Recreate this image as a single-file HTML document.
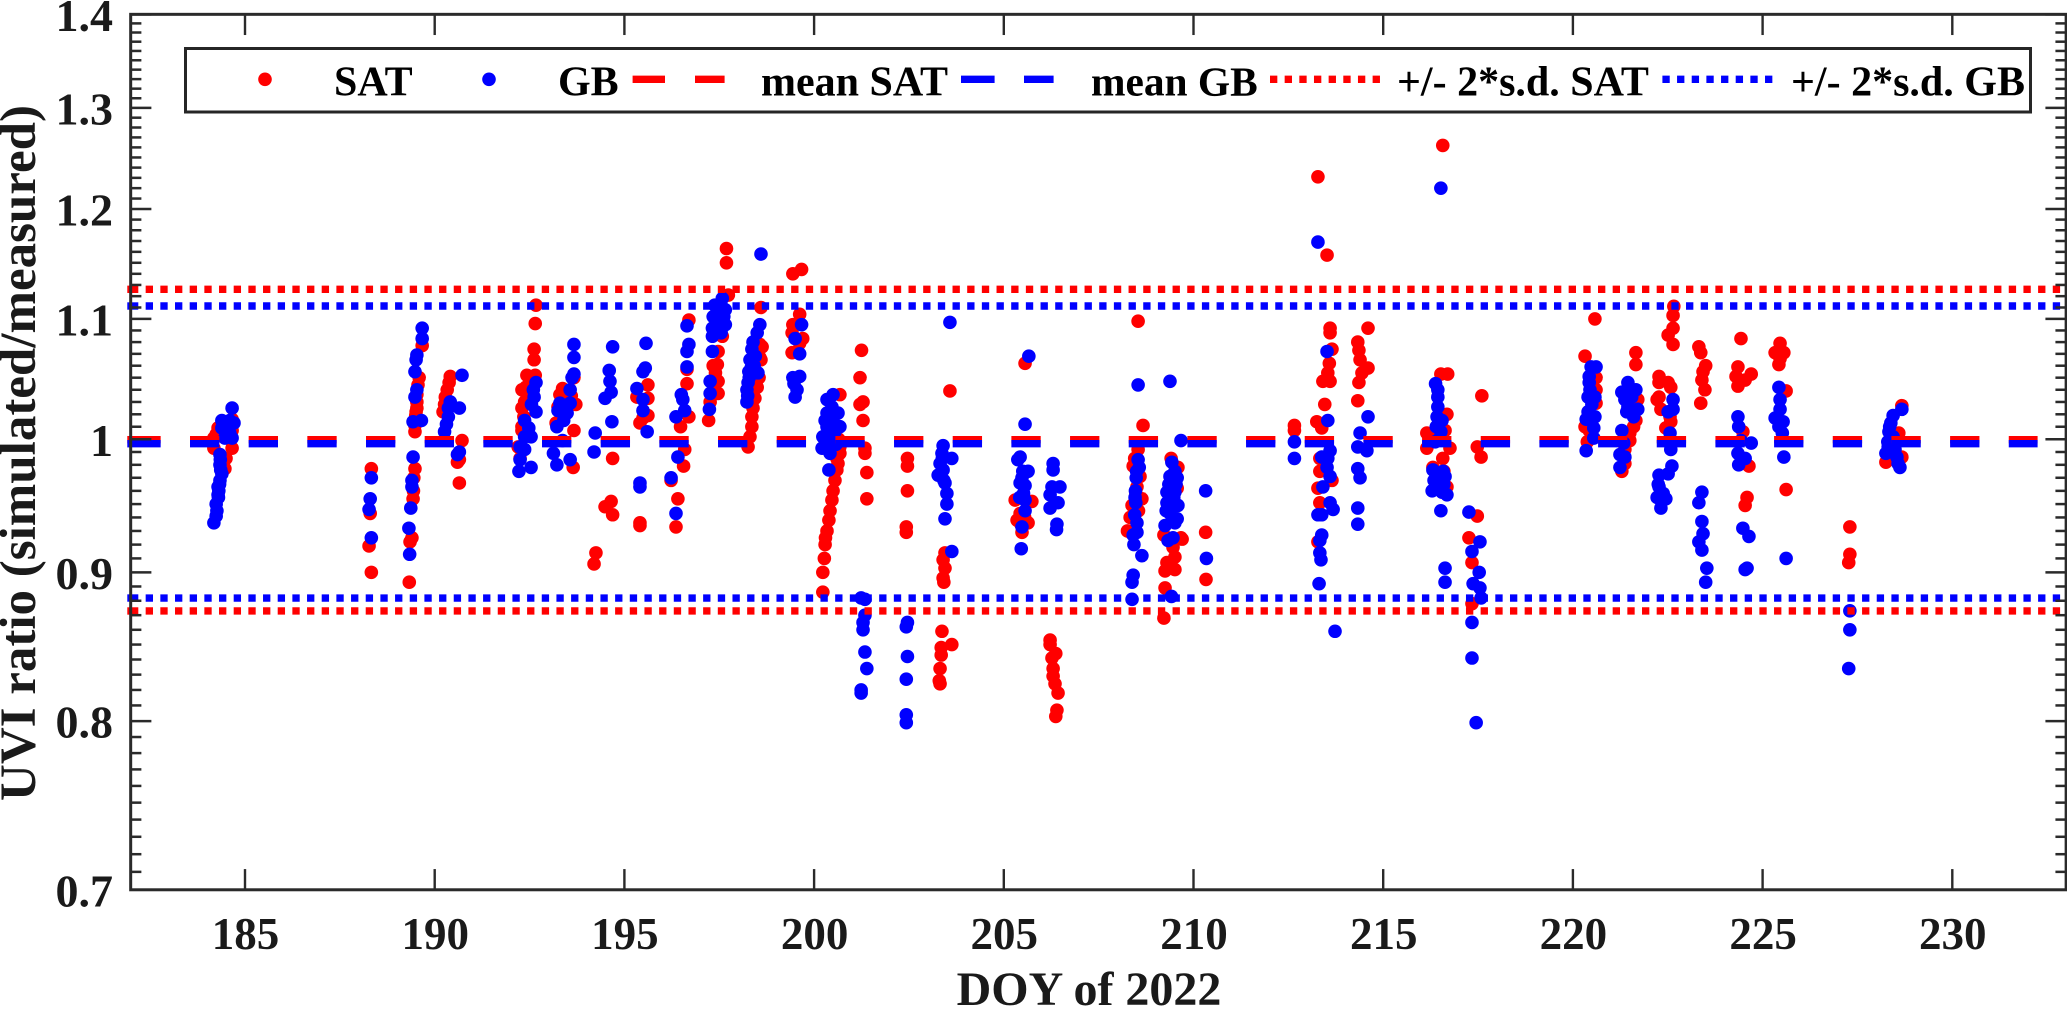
<!DOCTYPE html>
<html lang="en">
<head>
<meta charset="utf-8">
<title>UVI ratio by DOY of 2022</title>
<style>
html,body{margin:0;padding:0;background:#fff;}
svg{display:block;}
text{font-family:"Liberation Serif",serif;font-weight:bold;}
</style>
</head>
<body>
<svg id="chart" width="2067" height="1009" viewBox="0 0 2067 1009" xmlns="http://www.w3.org/2000/svg">
  <rect x="0" y="0" width="2067" height="1009" fill="#fff"/>
  <g id="sat-dots" fill="#ff0000"></g>
  <g id="gb-dots" fill="#0000ff"></g>
  <g id="ref-lines" fill="none"></g>
  <g id="axes"></g>
  <text transform="translate(35,453) rotate(-90)" text-anchor="middle" font-size="51" fill="#1a1a1a">UVI ratio (simulated/measured)</text>
  <text x="1089" y="1005" text-anchor="middle" font-size="48" fill="#1a1a1a">DOY of 2022</text>
  <g>
    <rect x="185.5" y="48.5" width="1845" height="63.5" fill="#fff" stroke="#262626" stroke-width="3"/>
    <circle cx="265" cy="79.3" r="6.8" fill="#ff0000"/>
    <text x="334" y="95.5" font-size="42" fill="#000">SAT</text>
    <circle cx="489" cy="79.3" r="6.8" fill="#0000ff"/>
    <text x="558" y="95.5" font-size="42" fill="#000">GB</text>
    <path d="M632.6 79.3H665M695 79.3H724.6" stroke="#ff0000" stroke-width="7.4" fill="none"/>
    <text x="761" y="95.5" font-size="42" fill="#000">mean SAT</text>
    <path d="M961 79.3H994.6M1024 79.3H1053.6" stroke="#0000ff" stroke-width="7.4" fill="none"/>
    <text x="1091" y="95.5" font-size="41.4" fill="#000">mean GB</text>
    <line x1="1270" y1="79.3" x2="1385" y2="79.3" stroke="#ff0000" stroke-width="7.4" stroke-dasharray="7.33 7.33"/>
    <text x="1397" y="95.5" font-size="42" fill="#000">+/- 2*s.d. SAT</text>
    <line x1="1662.4" y1="79.3" x2="1778" y2="79.3" stroke="#0000ff" stroke-width="7.4" stroke-dasharray="7.33 7.33"/>
    <text x="1791" y="95.5" font-size="42" fill="#000">+/- 2*s.d. GB</text>
  </g>
</svg>
<script>
const satDoy = [
184.18,184.18,184.66,184.47,184.66,184.29,184.66,184.24,184.5,
188.33,188.3,188.27,188.33,
189.67,189.59,189.56,189.53,189.53,189.53,189.51,189.5,189.48,189.48,189.48,189.43,189.4,189.35,189.33,189.45,189.44,
190.41,190.38,190.33,190.28,190.26,190.22,190.72,190.65,190.65,190.6,
192.67,192.65,192.62,192.62,192.43,192.65,192.4,192.3,192.54,192.37,192.54,192.3,192.3,192.3,192.2,192.35,192.45,192.5,192.25,
193.37,193.67,193.25,193.2,193.67,193.65,193.49,193.72,193.3,193.6,
194.69,194.65,194.49,194.69,194.25,194.2,
195.62,195.33,195.62,195.62,195.49,195.41,195.41,195.41,
196.7,196.65,196.65,196.7,196.48,196.59,196.56,196.23,196.41,196.36,
197.69,197.69,197.74,197.58,197.47,197.45,197.4,197.34,197.47,197.26,197.22,197.47,197.34,197.6,
198.6,198.57,198.63,198.57,198.6,198.5,198.44,198.39,198.36,198.36,198.31,198.26,198.55,
199.67,199.44,199.62,199.44,199.42,199.62,199.42,199.7,
200.68,200.68,200.68,200.63,200.6,200.55,200.5,200.47,200.42,200.39,200.34,200.3,200.29,200.27,200.23,200.23,200.65,200.6,
201.25,201.21,201.29,201.21,201.29,201.34,201.34,201.39,201.39,
202.46,202.46,202.46,202.43,202.43,
203.58,203.45,203.4,203.45,203.4,203.42,203.37,203.63,203.35,203.35,203.32,203.3,203.32,
205.56,205.3,205.74,205.43,205.35,205.64,205.48,205.45,205.55,
206.22,206.22,206.37,206.27,206.3,206.3,206.35,206.43,206.4,206.37,
208.54,208.67,208.54,208.41,208.59,208.51,208.64,208.38,208.33,208.38,208.26,208.45,208.55,208.48,
209.41,209.59,209.57,209.67,209.22,209.7,209.46,209.51,209.3,209.51,209.25,209.25,209.22,
210.32,210.33,
212.66,212.66,
213.28,213.52,213.6,213.6,213.65,213.58,213.54,213.41,213.6,213.46,213.25,213.38,213.33,213.33,213.65,213.28,213.33,213.28,
214.6,214.33,214.36,214.39,214.6,214.44,214.36,214.33,
216.57,216.7,216.68,216.63,216.15,216.76,216.15,216.57,216.31,216.68,216.52,216.4,216.6,
217.6,217.48,217.58,217.48,217.26,217.34,217.34,
220.58,220.32,220.61,220.61,220.61,220.48,220.48,220.43,220.38,220.32,
221.66,221.66,221.71,221.66,221.6,221.5,221.5,221.37,221.34,221.37,221.29,
222.66,222.64,222.64,222.51,222.64,222.27,222.27,222.58,222.51,222.27,222.22,222.32,222.56,222.58,222.45,
223.32,223.37,223.5,223.43,223.4,223.48,223.37,
224.43,224.35,224.3,224.7,224.54,224.35,224.48,224.64,224.59,224.54,
225.46,225.33,225.56,225.43,225.62,225.62,225.46,
227.3,227.3,227.27,
228.67,228.59,228.25,228.67
];
const satRatio = [
1.001,0.993,0.993,0.977,1.016,1.009,1.007,1.004,0.985,
0.977,0.943,0.919,0.900,
1.077,1.050,1.044,1.036,1.030,1.025,1.022,1.019,1.011,1.006,0.977,0.954,0.925,0.922,0.893,0.970,0.960,
1.051,1.046,1.040,1.034,1.028,1.022,0.999,0.984,0.966,0.982,
1.112,1.096,1.074,1.065,1.052,1.052,1.042,1.040,1.040,1.030,1.029,1.025,1.010,1.007,0.994,1.018,1.035,1.046,0.985,
1.041,1.050,1.026,1.013,1.007,0.978,1.032,1.028,1.036,1.035,
0.985,0.952,0.948,0.942,0.914,0.906,
1.044,1.034,1.033,1.019,1.017,1.013,0.936,0.934,
1.099,1.057,1.045,1.018,1.010,0.992,0.979,0.968,0.954,0.933,
1.163,1.150,1.121,1.085,1.072,1.061,1.054,1.047,1.037,1.030,1.015,1.047,1.060,1.100,
1.110,1.078,1.076,1.067,1.065,1.042,1.033,1.025,1.018,1.010,1.002,0.994,1.050,
1.144,1.140,1.104,1.095,1.088,1.079,1.071,1.083,
1.036,0.994,0.989,0.981,0.976,0.968,0.960,0.953,0.945,0.938,0.930,0.925,0.920,0.910,0.900,0.886,1.000,0.985,
1.073,1.050,1.030,1.028,1.015,0.993,0.989,0.974,0.954,
0.985,0.979,0.960,0.933,0.929,
1.039,0.914,0.909,0.903,0.896,0.893,0.859,0.850,0.848,0.843,0.834,0.826,0.824,
1.062,0.953,0.952,0.943,0.938,0.936,0.929,0.935,0.940,
0.853,0.850,0.844,0.841,0.834,0.829,0.824,0.818,0.807,0.803,
1.098,1.011,0.992,0.979,0.971,0.963,0.954,0.949,0.940,0.928,0.930,0.985,0.945,0.958,
0.985,0.978,0.962,0.925,0.927,0.924,0.918,0.911,0.907,0.902,0.901,0.889,0.868,
0.929,0.895,
1.011,1.007,
1.231,1.157,1.092,1.088,1.074,1.062,1.054,1.047,1.047,1.028,1.014,1.009,0.985,0.975,0.968,0.962,0.951,0.922,
1.092,1.080,1.073,1.065,1.058,1.054,1.046,1.031,
1.262,1.053,1.020,1.007,1.005,0.993,0.993,0.985,0.978,0.963,1.053,1.000,0.975,
1.035,0.994,0.986,0.941,0.925,0.907,0.878,
1.100,1.068,1.050,1.029,1.040,1.050,1.018,1.007,0.998,1.010,
1.071,1.061,1.032,1.015,1.010,1.005,0.999,0.992,0.986,0.981,0.975,
1.111,1.103,1.092,1.086,1.078,1.051,1.046,1.042,1.046,1.034,1.032,1.024,1.018,1.014,1.009,
1.076,1.071,1.060,1.055,1.048,1.040,1.029,
1.083,1.059,1.051,1.053,1.048,1.043,1.006,0.979,0.955,0.949,
1.079,1.071,1.071,1.061,1.039,0.961,1.066,
0.933,0.913,0.907,
1.027,1.005,0.982,0.986
];
const gbDoy = [
184.18,184.24,184.24,184.29,184.29,184.34,184.39,184.34,184.34,184.47,184.66,184.6,184.39,184.55,184.71,184.66,184.6,184.39,184.26,184.3,184.31,184.33,184.36,184.35,
188.33,188.3,188.27,188.33,
189.67,189.67,189.53,189.51,189.48,189.53,189.48,189.43,189.65,189.43,189.4,189.4,189.37,189.32,189.34,
190.72,190.41,190.65,190.36,190.36,190.31,190.26,190.6,190.65,
192.67,192.62,192.67,192.37,192.48,192.37,192.25,192.54,192.25,192.22,192.54,192.37,192.6,192.55,
193.67,193.67,193.67,193.57,193.3,193.49,193.22,193.13,193.22,193.57,193.37,193.62,193.4,193.57,193.25,
194.69,194.6,194.62,194.65,194.49,194.67,194.23,194.2,
195.57,195.55,195.49,195.33,195.49,195.49,195.6,195.41,195.41,
196.65,196.7,196.65,196.65,196.5,196.54,196.59,196.36,196.41,196.23,196.36,
197.58,197.47,197.58,197.66,197.34,197.6,197.32,197.32,197.32,197.26,197.26,197.24,197.4,197.5,197.62,197.45,197.55,197.38,197.66,197.43,
198.6,198.57,198.5,198.39,198.36,198.31,198.28,198.52,198.26,198.23,198.23,198.45,198.42,198.34,198.29,198.25,
199.67,199.5,199.62,199.44,199.62,199.55,199.5,199.47,
200.5,200.34,200.47,200.34,200.63,200.29,200.6,200.34,200.23,200.68,200.42,200.21,200.42,200.39,200.5,200.55,200.4,200.58,200.45,
201.24,201.34,201.34,201.29,201.29,201.34,201.39,201.24,201.24,
202.46,202.43,202.46,202.43,202.43,202.43,
203.58,203.4,203.63,203.37,203.32,203.4,203.27,203.45,203.5,203.5,203.45,203.63,203.38,203.42,
205.66,205.56,205.43,205.37,205.64,205.43,205.56,205.56,205.56,205.48,205.46,205.5,205.52,205.48,205.42,
206.3,206.3,206.48,206.27,206.22,206.43,206.22,206.4,206.39,
208.54,208.54,208.57,208.48,208.45,208.51,208.51,208.41,208.43,208.64,208.41,208.38,208.38,208.47,208.49,208.5,208.46,
209.38,209.67,209.43,209.51,209.38,209.57,209.46,209.3,209.3,209.51,209.59,209.38,209.57,209.25,209.51,209.33,209.46,209.42,209.35,209.54,209.28,209.48,
210.32,210.34,
212.66,212.66,
213.28,213.52,213.54,213.6,213.38,213.54,213.52,213.6,213.41,213.6,213.68,213.28,213.38,213.38,213.33,213.33,213.36,213.31,213.73,
214.6,214.39,214.33,214.57,214.33,214.39,214.33,214.33,
216.52,216.44,216.44,216.44,216.42,216.55,216.52,216.37,216.31,216.63,216.29,216.55,216.68,216.52,216.63,216.63,216.38,216.6,216.44,216.34,216.58,216.4,216.47,
217.26,217.55,217.34,217.53,217.37,217.55,217.58,217.34,217.34,217.45,
220.48,220.61,220.43,220.43,220.4,220.58,220.4,220.35,220.58,220.55,220.55,220.35,220.45,220.5,
221.45,221.29,221.66,221.37,221.45,221.71,221.42,221.6,221.29,221.34,221.24,221.37,221.24,221.55,221.5,
222.64,222.64,222.51,222.56,222.58,222.61,222.51,222.27,222.27,222.22,222.45,222.32,222.38,222.25,
223.4,223.32,223.4,223.43,223.32,223.4,223.53,223.5,
224.35,224.37,224.43,224.7,224.35,224.54,224.37,224.48,224.64,224.59,224.54,
225.43,225.46,225.46,225.33,225.54,225.43,225.52,225.56,225.62,
227.3,227.3,227.27,
228.67,228.44,228.38,228.33,228.3,228.44,228.25,228.54,228.62,228.49,228.57,228.35,228.36,228.31
];
const gbRatio = [
0.936,0.941,0.950,0.957,0.963,0.968,0.973,0.980,0.988,1.001,1.001,1.005,1.015,1.012,1.013,1.025,1.015,1.009,0.945,0.955,0.960,0.965,0.976,0.984,
0.970,0.954,0.946,0.925,
1.092,1.083,1.069,1.065,1.055,1.040,1.034,1.014,1.015,0.986,0.968,0.963,0.947,0.932,0.913,
1.052,1.030,1.025,1.025,1.018,1.012,1.006,0.988,0.990,
1.046,1.034,1.022,1.015,1.009,1.002,0.994,1.002,0.984,0.975,0.978,0.992,1.040,1.028,
1.078,1.067,1.053,1.040,1.029,1.021,1.010,0.989,0.980,0.984,0.999,1.050,1.015,1.029,1.023,
1.076,1.056,1.047,1.038,1.033,1.014,1.005,0.990,
1.079,1.058,1.055,1.041,1.032,1.023,1.006,0.966,0.963,
1.094,1.078,1.072,1.059,1.036,1.032,1.023,1.018,0.986,0.970,0.943,
1.118,1.108,1.110,1.095,1.102,1.105,1.092,1.085,1.072,1.047,1.037,1.024,1.090,1.100,1.102,1.104,1.088,1.112,1.108,1.095,
1.158,1.095,1.088,1.080,1.074,1.065,1.055,1.054,1.046,1.040,1.030,1.068,1.060,1.058,1.050,1.035,
1.095,1.083,1.070,1.050,1.051,1.040,1.034,1.045,
1.036,1.032,1.026,1.021,1.021,1.015,1.010,1.010,1.002,1.010,1.002,0.993,0.989,0.976,1.015,1.006,1.018,0.996,0.998,
0.882,0.881,0.870,0.865,0.860,0.845,0.834,0.820,0.818,
0.865,0.862,0.842,0.827,0.804,0.799,
1.097,0.995,0.985,0.989,0.981,0.976,0.972,0.966,0.958,0.950,0.939,0.915,0.985,0.968,
1.068,1.012,0.986,0.984,0.975,0.966,0.964,0.953,0.945,0.933,0.917,0.975,0.958,0.970,0.955,
0.981,0.976,0.963,0.963,0.957,0.951,0.947,0.935,0.931,
1.044,0.984,0.978,0.951,0.942,0.936,0.929,0.927,0.920,0.912,0.898,0.893,0.881,0.960,0.970,0.975,0.955,
1.047,0.999,0.982,0.975,0.971,0.970,0.958,0.959,0.951,0.959,0.949,0.943,0.939,0.934,0.936,0.923,0.925,0.883,0.965,0.965,0.945,0.955,
0.960,0.910,
0.998,0.985,
1.169,1.072,1.015,0.991,0.986,0.985,0.978,0.971,0.963,0.951,0.946,0.942,0.942,0.927,0.923,0.914,0.909,0.892,0.859,
1.018,1.005,0.994,0.991,0.977,0.970,0.947,0.935,
1.220,1.040,1.034,1.026,1.018,1.015,1.006,0.998,0.976,0.971,0.960,0.959,0.957,0.945,0.903,0.893,1.045,0.965,0.962,0.968,0.975,1.010,1.000,
0.944,0.922,0.915,0.900,0.892,0.889,0.882,0.865,0.841,0.799,
1.059,1.059,1.051,1.046,1.034,1.034,1.022,1.016,1.018,1.009,1.001,0.991,1.040,1.028,
1.046,1.038,1.040,1.032,1.026,1.024,1.022,1.018,1.007,0.997,0.988,0.986,0.978,1.034,1.040,
1.032,1.024,1.022,1.005,0.992,0.979,0.973,0.972,0.963,0.955,0.954,0.947,0.958,0.965,
0.959,0.951,0.937,0.928,0.922,0.916,0.903,0.893,
1.018,1.010,0.999,0.997,0.989,0.985,0.980,0.932,0.926,0.903,0.902,
1.042,1.032,1.024,1.017,1.014,1.010,1.005,0.986,0.910,
0.873,0.860,0.834,
1.024,1.019,1.013,1.006,0.998,1.002,0.989,0.986,0.978,0.992,0.981,1.010,1.000,0.994
];
const xTickValues = [185,190,195,200,205,210,215,220,225,230];
const yTickLabels = ["0.7","0.8","0.9","1","1.1","1.2","1.3","1.4"];
const yMajorValues = [0.7,0.8,0.9,1.0,1.1,1.2,1.3,1.4];
const refLineNames = ["mean-sat-line","mean-gb-line","sd-upper-sat-line","sd-upper-gb-line","sd-lower-sat-line","sd-lower-gb-line"];
const refLineValues = [0.9997,0.9965,1.1261,1.1113,0.8729,0.8819];
const refLineColors = ["#ff0000","#0000ff","#ff0000","#0000ff","#ff0000","#0000ff"];
const xDomain = [182,233];

const NS = "http://www.w3.org/2000/svg";
function xScale(d){ return 245 + (d - 185) * 37.94; }
function yScale(v){ return 439.3 - 1263 * Math.log(v); }
function mk(tag, attrs, parent){
  const el = document.createElementNS(NS, tag);
  for (const k in attrs) el.setAttribute(k, attrs[k]);
  parent.appendChild(el);
  return el;
}

const satGroup = document.getElementById("sat-dots");
for (let i = 0; i < Math.min(satDoy.length, satRatio.length); i++) {
  const el = mk("circle", {cx: xScale(satDoy[i]).toFixed(2), cy: yScale(satRatio[i]).toFixed(2), r: 6.8}, satGroup);
  
  
}
const gbGroup = document.getElementById("gb-dots");
for (let i = 0; i < Math.min(gbDoy.length, gbRatio.length); i++) {
  const el = mk("circle", {cx: xScale(gbDoy[i]).toFixed(2), cy: yScale(gbRatio[i]).toFixed(2), r: 6.8}, gbGroup);
  
  
}

const refGroup = document.getElementById("ref-lines");
refLineValues.forEach(function(v, i){
  const y = yScale(v).toFixed(2);
  const isMean = i < 2;
  const stub = mk("line", {x1: 127.3, x2: isMean ? 131.33 : 138.3, y1: y, y2: y, stroke: refLineColors[i], "stroke-width": 7.4}, refGroup);
  
  
  const line = mk("line", {x1: isMean ? 131.33 : 145.67, x2: isMean ? 2037.6 : 2060.2, y1: y, y2: y, stroke: refLineColors[i], "stroke-width": 7.4, "stroke-dasharray": isMean ? "29.33 29.34" : "7.33 7.34"}, refGroup);
  
  
});

const axes = document.getElementById("axes");
const axL = xScale(xDomain[0]) - 0.5, axR = xScale(xDomain[1]), axT = yScale(1.4), axB = yScale(0.7);
const frame = mk("rect", {x: axL, y: axT, width: axR - axL, height: axB - axT, fill: "none", stroke: "#2a2a2a", "stroke-width": 3}, axes);



xTickValues.forEach(function(d){
  const x = xScale(d);
  const b = mk("line", {x1: x, x2: x, y1: axB, y2: axB - 20.7, stroke: "#2a2a2a", "stroke-width": 2.4}, axes);
  
  
  const t = mk("line", {x1: x, x2: x, y1: axT, y2: axT + 20.7, stroke: "#2a2a2a", "stroke-width": 2.4}, axes);
  
  
  const lab = mk("text", {x: x + 0.5, y: 949, "text-anchor": "middle", "font-size": 45, fill: "#1a1a1a"}, axes);
  lab.textContent = String(d);
  
  
});

for (let k = 70; k <= 140; k++) {
  const v = k / 100;
  const major = k % 10 === 0;
  const len = major ? 20.7 : 10.7;
  const y = yScale(v);
  const l = mk("line", {x1: axL, x2: axL + len, y1: y, y2: y, stroke: "#2a2a2a", "stroke-width": 2.5}, axes);
  
  
  const r = mk("line", {x1: axR, x2: axR - len, y1: y, y2: y, stroke: "#2a2a2a", "stroke-width": 2.5}, axes);
  
  
}
yMajorValues.forEach(function(v, i){
  const lab = mk("text", {x: 113, y: (yScale(v) + 16.5).toFixed(2), "text-anchor": "end", "font-size": 46, fill: "#1a1a1a"}, axes);
  lab.textContent = yTickLabels[i];
  
  
});
</script>
</body>
</html>
